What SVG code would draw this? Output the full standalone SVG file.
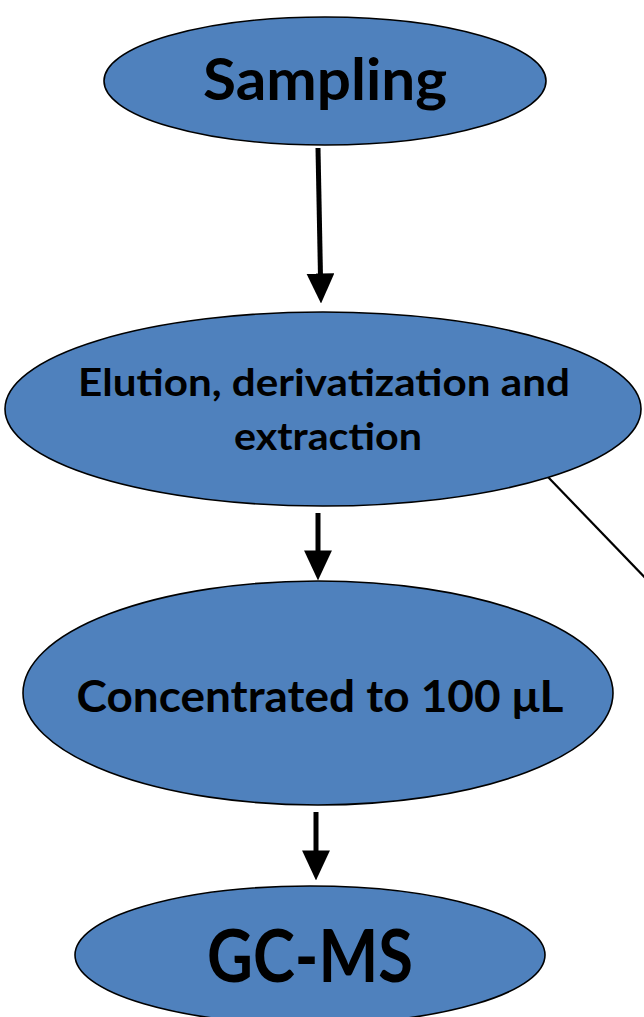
<svg xmlns="http://www.w3.org/2000/svg" width="644" height="1017" viewBox="0 0 644 1017">
<defs>
<style>
.node{fill:#4F81BD;stroke:#000;stroke-width:1.6}
.lbl{font-family:Lato,"Open Sans","Liberation Sans",sans-serif;font-weight:bold;fill:#000;text-anchor:middle}
.arr{stroke:#000;stroke-width:5;fill:none}
.thin{stroke:#000;stroke-width:2.2;fill:none}
</style>
<marker id="ah" markerUnits="userSpaceOnUse" markerWidth="30" markerHeight="28" viewBox="0 0 28 26" refX="8" refY="13" orient="auto">
<path d="M0,0 L28,13 L0,26 z" fill="#000"/>
</marker>
</defs>
<g id="connectors">
<line class="arr" x1="318" y1="148" x2="320.6" y2="282" marker-end="url(#ah)"/>
<line class="arr" x1="318" y1="513" x2="318" y2="559" marker-end="url(#ah)"/>
<line class="arr" x1="316" y1="812" x2="316" y2="859" marker-end="url(#ah)"/>
<line class="thin" x1="548" y1="477" x2="652" y2="585"/>
</g>
<g id="sampling">
<ellipse class="node" cx="325" cy="81" rx="221" ry="64"/>
<text class="lbl" x="325" y="100" font-size="58" textLength="244" lengthAdjust="spacingAndGlyphs">Sampling</text>
</g>
<g id="elution">
<ellipse class="node" cx="323" cy="409" rx="318" ry="97"/>
<text class="lbl" x="324" y="396" font-size="38" textLength="492" lengthAdjust="spacingAndGlyphs">Elution, derivatization and</text>
<text class="lbl" x="328" y="450" font-size="38" textLength="188" lengthAdjust="spacingAndGlyphs">extraction</text>
</g>
<g id="concentrated">
<ellipse class="node" cx="318" cy="693" rx="295" ry="112"/>
<text class="lbl" x="320" y="712" font-size="44" textLength="487" lengthAdjust="spacingAndGlyphs">Concentrated to 100 μL</text>
</g>
<g id="gcms">
<ellipse class="node" cx="310" cy="955" rx="235" ry="69"/>
<text class="lbl" x="310" y="982" font-size="72" textLength="206" lengthAdjust="spacingAndGlyphs">GC-MS</text>
</g>
</svg>
